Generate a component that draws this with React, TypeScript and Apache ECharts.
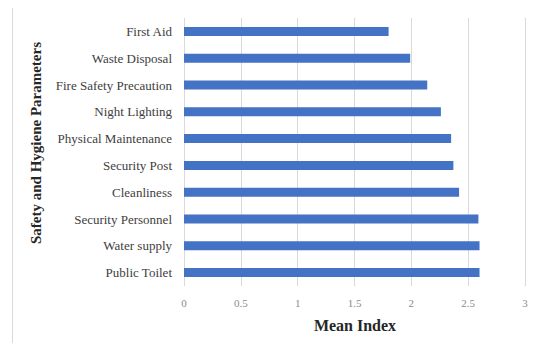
import React, { useEffect, useRef } from "react";
import * as echarts from "echarts";

const categories = [
  "Public Toilet",
  "Water supply",
  "Security Personnel",
  "Cleanliness",
  "Security Post",
  "Physical Maintenance",
  "Night Lighting",
  "Fire Safety Precaution",
  "Waste Disposal",
  "First Aid",
];
const meanIndex = [2.6, 2.6, 2.59, 2.42, 2.37, 2.35, 2.26, 2.14, 1.99, 1.8];
const xTicks = [0, 0.5, 1, 1.5, 2, 2.5, 3];

export default function App() {
  const ref = useRef<HTMLDivElement>(null);
  useEffect(() => {
    const chart = echarts.init(ref.current!, null, { renderer: "svg" });
    const serif = "Liberation Serif";
    chart.setOption({
      animation: false,
      backgroundColor: "#fff",
      grid: { left: 184, right: 12, top: 18, bottom: 65 },
      xAxis: {
        type: "value",
        min: 0,
        max: 3,
        interval: 0.5,
        axisLine: { show: false },
        axisTick: { show: false },
        splitLine: { lineStyle: { color: "#d9d9d9", width: 1 } },
        axisLabel: {
          color: "#8c8c8c",
          fontFamily: serif,
          fontSize: 11,
          margin: 11,
          formatter: (v: number) => (xTicks.includes(v) ? String(v) : ""),
        },
      },
      yAxis: {
        type: "category",
        data: categories,
        axisLine: { show: false },
        axisTick: { show: false },
        axisLabel: { color: "#404040", fontFamily: serif, fontSize: 13, margin: 12 },
      },
      series: [
        {
          type: "bar",
          data: meanIndex,
          barWidth: 9,
          itemStyle: { color: "#4472C4" },
        },
      ],
      graphic: [
        {
          type: "rect",
          shape: { x: 12.5, y: 2.5, width: 520, height: 344 },
          style: { fill: "none", stroke: "#d9d9d9", lineWidth: 1 },
          silent: true,
        },
        {
          type: "text",
          x: 36,
          y: 143,
          rotation: Math.PI / 2,
          style: {
            text: "Safety and Hygiene Parameters",
            fontFamily: serif,
            fontWeight: "bold",
            fontSize: 15,
            fill: "#262626",
            align: "center",
            verticalAlign: "middle",
          },
        },
        {
          type: "text",
          x: 355,
          y: 325,
          style: {
            text: "Mean Index",
            fontFamily: serif,
            fontWeight: "bold",
            fontSize: 16,
            fill: "#262626",
            align: "center",
            verticalAlign: "middle",
          },
        },
      ],
    });
    return () => chart.dispose();
  }, []);
  return <div ref={ref} style={{ width: 537, height: 351, margin: -8 }} />;
}
